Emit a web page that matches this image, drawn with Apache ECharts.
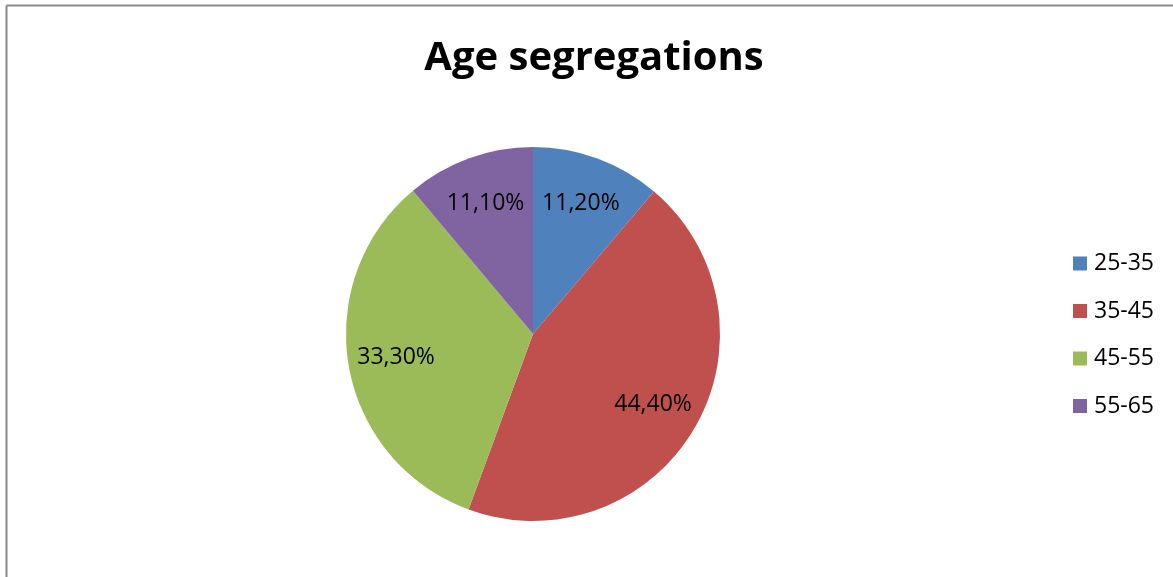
<!DOCTYPE html>
<html>
<head>
<meta charset="utf-8">
<script src="https://cdn.jsdelivr.net/npm/echarts@6/dist/echarts.min.js"></script>
<style>
html,body{margin:0;padding:0;background:#fff;}
#chart{width:1173px;height:577px;}
</style>
</head>
<body>
<div id="chart"></div>
<script>
const titleText = 'Age segregations';
const categories = ['25-35', '35-45', '45-55', '55-65'];
const values = [11.2, 44.4, 33.3, 11.1];
const colors = ['#4F81BD', '#C0504D', '#9BBB59', '#8064A2'];

const chart = echarts.init(document.getElementById('chart'));
const data = categories.map((c, i) => ({ name: c, value: values[i], itemStyle: { color: colors[i] } }));
const fmt = p => p.value.toFixed(2).replace('.', ',') + '%';
const font = '"Open Sans", "Liberation Sans", sans-serif';

chart.setOption({
  animation: false,
  backgroundColor: '#fff',
  title: {
    text: titleText,
    left: 589, top: 34, textAlign: 'center',
    textStyle: { fontFamily: font, fontWeight: 'bold', fontSize: 40, color: '#000' }
  },
  legend: {
    orient: 'vertical', left: 1068, top: 247,
    itemWidth: 14, itemHeight: 14, itemGap: 24.5,
    icon: 'rect',
    textStyle: { fontFamily: font, fontSize: 23, color: '#000', padding: [0, 0, 0, 2] },
    data: categories
  },
  graphic: [
    { type: 'line', shape: { x1: 6.5, y1: 5.5, x2: 1173, y2: 5.5 }, style: { stroke: '#888', lineWidth: 2 } },
    { type: 'line', shape: { x1: 6.5, y1: 5.5, x2: 6.5, y2: 577 }, style: { stroke: '#888', lineWidth: 2 } }
  ],
  series: [
    {
      type: 'pie', center: [533, 334], radius: 187, startAngle: 90, clockwise: true,
      label: { show: false }, labelLine: { show: false },
      itemStyle: { borderWidth: 0 },
      emphasis: { disabled: true },
      data: data
    },
    {
      type: 'pie', center: [533, 334], radius: [85, 187], startAngle: 90, clockwise: true,
      silent: true,
      itemStyle: { color: 'rgba(0,0,0,0)', borderWidth: 0 },
      label: { show: true, position: 'inside', formatter: fmt, fontFamily: font, fontSize: 23, color: '#000' },
      labelLine: { show: false },
      emphasis: { disabled: true },
      data: categories.map((c, i) => ({ name: c, value: values[i], itemStyle: { color: 'rgba(0,0,0,0)' } }))
    }
  ]
});
</script>
</body>
</html>
